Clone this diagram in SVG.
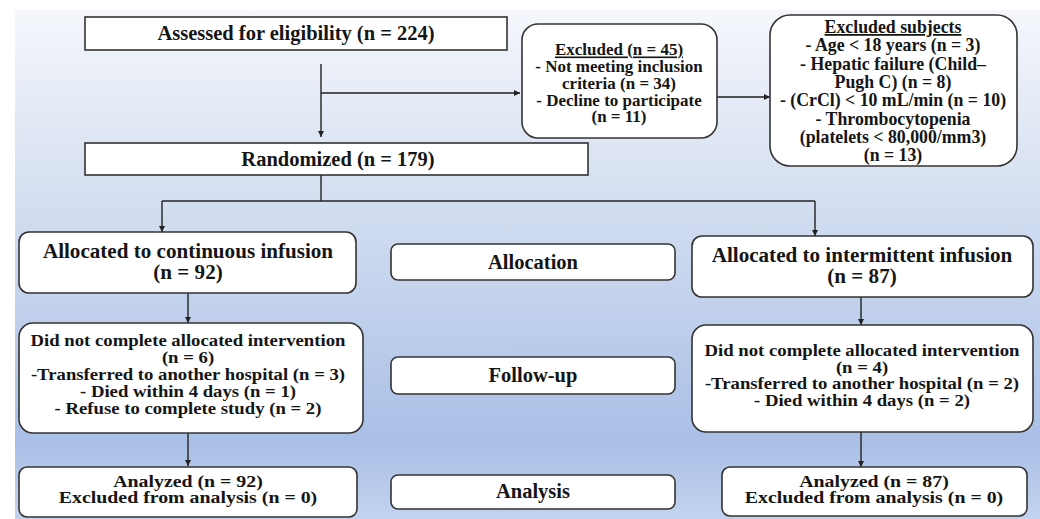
<svg xmlns="http://www.w3.org/2000/svg" width="1040" height="519" viewBox="0 0 1040 519">
<defs>
<linearGradient id="bg" x1="0" y1="0" x2="0" y2="1">
<stop offset="0" stop-color="#f5f7fc"/>
<stop offset="0.35" stop-color="#d6e0f1"/>
<stop offset="0.85" stop-color="#a9bfe6"/>
<stop offset="1" stop-color="#c3d3ef"/>
</linearGradient>
<marker id="arr" viewBox="0 0 10 10" refX="10" refY="5" markerWidth="6" markerHeight="6" markerUnits="userSpaceOnUse" orient="auto">
<path d="M0,0 L10,5 L0,10 z" fill="#222"/>
</marker>
<style>
.box{fill:#fff;stroke:#333;stroke-width:1.6}
.t{font-family:"Liberation Serif","Times New Roman",serif;font-weight:bold;fill:#151515;text-anchor:middle;font-size:16px}
.s{font-size:16.5px}
.x{font-size:17.8px}
.a{font-size:16px}
.h{font-size:20.5px}
.l{font-size:20.5px}
.c{fill:none;stroke:#222;stroke-width:1.4}
</style>
</defs>
<rect x="15" y="10" width="1025" height="509" fill="url(#bg)"/>

<g id="connectors">
<path class="c" d="M321,64 V137" marker-end="url(#arr)"/>
<path class="c" d="M321,93 H520" marker-end="url(#arr)"/>
<path class="c" d="M717,97 H770" marker-end="url(#arr)"/>
<path class="c" d="M321,175 V201"/>
<path class="c" d="M162,201 H815"/>
<path class="c" d="M162,201 V232" marker-end="url(#arr)"/>
<path class="c" d="M815,201 V236" marker-end="url(#arr)"/>
<path class="c" d="M188,293 V323" marker-end="url(#arr)"/>
<path class="c" d="M188,433 V466" marker-end="url(#arr)"/>
<path class="c" d="M861,297 V325" marker-end="url(#arr)"/>
<path class="c" d="M861,432 V467" marker-end="url(#arr)"/>
</g>

<g id="assessed">
<rect class="box" x="85" y="17" width="422" height="33"/>
<text class="t h" x="296" y="40">Assessed for eligibility (n = 224)</text>
</g>

<g id="excluded45">
<rect class="box" x="522" y="24" width="195" height="114" rx="16"/>
<g transform="translate(619 0) scale(1.03 1)">
<text class="t s" x="0" y="55.5" text-decoration="underline">Excluded (n = 45)</text>
<text class="t s" x="0" y="72.25">- Not meeting inclusion</text>
<text class="t s" x="0" y="89">criteria (n = 34)</text>
<text class="t s" x="0" y="105.75">- Decline to participate</text>
<text class="t s" x="0" y="122.5">(n = 11)</text>
</g>
</g>

<g id="excludedsubjects">
<rect class="box" x="770" y="15" width="247" height="151" rx="20"/>
<text class="t x" x="893" y="33" text-decoration="underline">Excluded subjects</text>
<text class="t x" x="893" y="51.3">- Age &lt; 18 years (n = 3)</text>
<text class="t x" x="893" y="69.6">- Hepatic failure (Child–</text>
<text class="t x" x="893" y="87.9">Pugh C) (n = 8)</text>
<text class="t x" x="893" y="106.2">- (CrCl) &lt; 10 mL/min (n = 10)</text>
<text class="t x" x="893" y="124.5">- Thrombocytopenia</text>
<text class="t x" x="893" y="142.8">(platelets &lt; 80,000/mm3)</text>
<text class="t x" x="893" y="161.1">(n = 13)</text>
</g>

<g id="randomized">
<rect class="box" x="85" y="143" width="503" height="32"/>
<text class="t h" x="338" y="166">Randomized  (n = 179)</text>
</g>

<g id="alloc-cont">
<rect class="box" x="19" y="232" width="337" height="61" rx="10"/>
<g transform="translate(188 0) scale(1.03 1)">
<text class="t l" x="0" y="258.5">Allocated to continuous infusion</text>
<text class="t l" x="0" y="279.5">(n = 92)</text>
</g>
</g>

<g id="allocation">
<rect class="box" x="391" y="244" width="284" height="36" rx="7"/>
<text class="t h" x="533" y="269">Allocation</text>
</g>

<g id="alloc-int">
<rect class="box" x="692" y="236" width="341" height="61" rx="10"/>
<g transform="translate(862 0) scale(1.03 1)">
<text class="t l" x="0" y="262.5">Allocated to intermittent infusion</text>
<text class="t l" x="0" y="283.5">(n = 87)</text>
</g>
</g>

<g id="dnc-left">
<rect class="box" x="19" y="323" width="344" height="110" rx="14"/>
<g transform="translate(188 0) scale(1.17 1)">
<text class="t" x="0" y="346.5">Did not complete allocated intervention</text>
<text class="t" x="0" y="363.3">(n = 6)</text>
<text class="t" x="0" y="380.1">-Transferred to another hospital (n = 3)</text>
<text class="t" x="0" y="396.9">- Died within 4 days (n = 1)</text>
<text class="t" x="0" y="413.7">- Refuse to complete study (n = 2)</text>
</g>
</g>

<g id="followup">
<rect class="box" x="391" y="357" width="284" height="37" rx="7"/>
<text class="t h" x="533" y="382">Follow-up</text>
</g>

<g id="dnc-right">
<rect class="box" x="692" y="325" width="341" height="107" rx="14"/>
<g transform="translate(862 0) scale(1.17 1)">
<text class="t" x="0" y="356.5">Did not complete allocated intervention</text>
<text class="t" x="0" y="373">(n = 4)</text>
<text class="t" x="0" y="389.5">-Transferred to another hospital (n = 2)</text>
<text class="t" x="0" y="406">- Died within 4 days (n = 2)</text>
</g>
</g>

<g id="analyzed-left">
<rect class="box" x="19" y="467" width="338" height="50" rx="8"/>
<g transform="translate(188 0) scale(1.24 1)">
<text class="t a" x="0" y="487">Analyzed (n = 92)</text>
<text class="t a" x="0" y="503.5">Excluded from analysis (n = 0)</text>
</g>
</g>

<g id="analysis">
<rect class="box" x="391" y="475" width="284" height="34" rx="7"/>
<text class="t h" x="533" y="498">Analysis</text>
</g>

<g id="analyzed-right">
<rect class="box" x="722" y="467" width="305" height="49" rx="8"/>
<g transform="translate(874 0) scale(1.24 1)">
<text class="t a" x="0" y="487">Analyzed (n = 87)</text>
<text class="t a" x="0" y="503.5">Excluded from analysis (n = 0)</text>
</g>
</g>
</svg>
